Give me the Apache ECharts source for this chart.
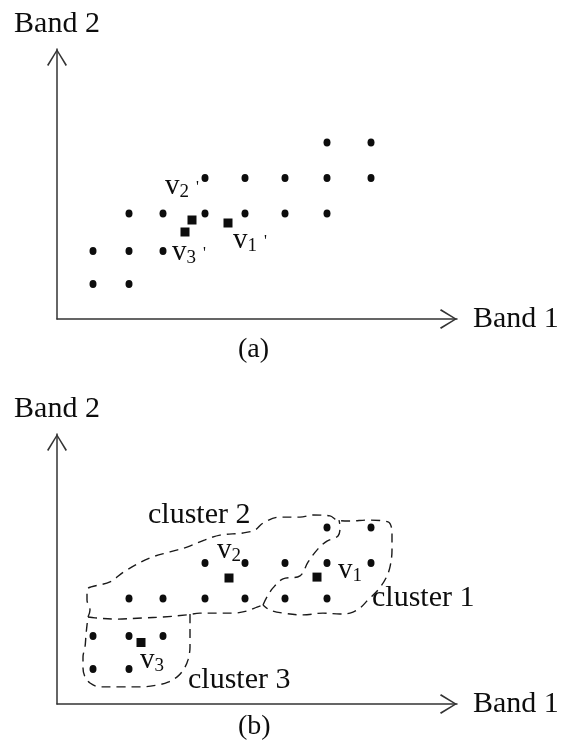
<!DOCTYPE html>
<html>
<head>
<meta charset="utf-8">
<title>Clustering in Band 1 / Band 2 feature space</title>
<script src="https://cdn.jsdelivr.net/npm/echarts@6/dist/echarts.min.js"></script>
<style>
  html, body { margin: 0; padding: 0; background: #ffffff; }
  #chart { width: 561px; height: 752px; }
</style>
</head>
<body>
<div id="chart"></div>
<script>
// Pixel samples in (Band 1, Band 2) space, same in both panels
const pixelBand1 = [9, 18, 9, 18, 26.5, 18, 26.5, 37, 47, 57, 67.5, 37, 47, 57, 67.5, 78.5, 67.5, 78.5];
const pixelBand2 = [11.7, 11.7, 22.7, 22.7, 22.7, 35.2, 35.2, 35.2, 35.2, 35.2, 35.2, 47, 47, 47, 47, 47, 58.8, 58.8];

// Cluster centres: initial guesses (a) and converged positions (b)
const centreNames = ['1', '2', '3'];
const initialBand1 = [42.75, 33.75, 32];
const initialBand2 = [32, 33, 29];
const finalBand1 = [65, 43, 21];
const finalBand2 = [42.3, 42, 20.5];

// Hand-drawn cluster outlines in panel (b), as [Band 1, Band 2] vertices
const outerOutline = [
  [7.75, 29], [8.25, 31.3], [7.5, 34.7], [7.5, 38], [13.25, 40.7], [17, 44.3],
  [23.25, 48.7], [28.25, 50.7], [32.5, 52.3], [37, 54.7], [40.75, 56.3], [46.5, 57],
  [49.5, 58], [51.5, 60.3], [55.75, 62.3], [60.75, 62.3], [64, 63], [68.25, 62.7],
  [70, 61.3], [73.25, 61], [77.75, 61.3], [82.75, 60.7], [83.75, 57], [83.75, 51.3],
  [83.25, 45.7], [82.25, 42], [80.25, 38], [77.75, 34.7], [75.75, 32], [73.25, 30.3],
  [70.75, 30], [66.5, 30.3], [61.5, 29.7], [56.5, 30.3], [53.25, 31.3], [51.5, 33]
];
const lowerBorder = [
  [7.75, 29], [9.5, 28.7], [15, 28.3], [21.5, 28.7], [26.5, 29], [32.5, 29.7],
  [35.75, 30.3], [40, 30.3], [44, 30.3], [47.5, 31], [50, 32.3], [51.5, 33]
];
const dividerBorder = [
  [51.5, 33], [52.5, 35.7], [54, 38.7], [56.5, 41.7], [60.75, 42.7], [62.75, 47.3],
  [65.25, 51.7], [67.5, 54.3], [70.25, 56], [70.75, 59], [70.5, 61.3]
];
const cluster3Border = [
  [33.25, 30], [33.25, 26.3], [33.25, 19], [32.75, 14.7], [31.75, 11.7], [30.25, 9.3],
  [27.75, 7.3], [25, 6.3], [20.75, 5.7], [15.75, 5.7], [10.75, 5.7], [8.25, 7],
  [7, 9], [6.5, 12], [6.5, 15.7], [7, 19], [7.25, 23], [7.5, 26.3], [7.75, 29]
];

// Cluster names and the point each one is written at
const clusterNames = ['cluster 2', 'cluster 1', 'cluster 3'];
const clusterNameBand1 = [22.75, 78.75, 32.75];
const clusterNameBand2 = [63, 35.3, 8];

const FONT = '"Liberation Serif", "Times New Roman", serif';
const INK = '#0d0d0d';
const AXIS = '#333333';
const ARROW = 'path://M10 0 L20 16 L18.6 17 L10 2.6 L1.4 17 L0 16 Z';

const zip = (a, b) => a.map((v, i) => [v, b[i]]);

function xAxisFor(idx) {
  return {
    type: 'value', gridIndex: idx, min: 0, max: 100,
    name: 'Band 1', nameLocation: 'end', nameGap: 16,
    nameTextStyle: { fontFamily: FONT, fontSize: 30, color: INK, align: 'left', verticalAlign: 'middle' },
    axisLine: {
      show: true, onZero: false,
      symbol: ['none', ARROW], symbolSize: [20, 17], symbolOffset: [0, -8.5],
      lineStyle: { color: AXIS, width: 1.5 }
    },
    axisTick: { show: false }, axisLabel: { show: false }, splitLine: { show: false }
  };
}
function yAxisFor(idx) {
  return {
    type: 'value', gridIndex: idx, min: 0, max: 90,
    name: 'Band 2', nameLocation: 'end', nameGap: 10,
    nameTextStyle: { fontFamily: FONT, fontSize: 30, color: INK, align: 'center', verticalAlign: 'bottom' },
    axisLine: {
      show: true, onZero: false,
      symbol: ['none', ARROW], symbolSize: [20, 17], symbolOffset: [0, -8.5],
      lineStyle: { color: AXIS, width: 1.5 }
    },
    axisTick: { show: false }, axisLabel: { show: false }, splitLine: { show: false }
  };
}

const centreRich = {
  v: { fontFamily: FONT, fontSize: 29, lineHeight: 30, color: INK, verticalAlign: 'top', padding: [0, 0, 8, 0] },
  s: { fontFamily: FONT, fontSize: 19, lineHeight: 20, color: INK, verticalAlign: 'bottom' },
  p: { fontFamily: FONT, fontSize: 16, lineHeight: 16, color: INK, verticalAlign: 'top', padding: [8, 0, 0, 7] }
};

// label offsets from each centre marker (relative to marker box corner)
const initialLabelPos = [[9.5, 7], [-22.5, -44], [-8.5, 10]];
const finalLabelPos = [[25.5, -17], [-7.5, -38], [3.5, 8]];

function centreSeries(idx, b1, b2, labelPos, primed) {
  return {
    type: 'scatter', xAxisIndex: idx, yAxisIndex: idx,
    symbol: 'rect', symbolSize: 9, silent: true,
    itemStyle: { color: INK, opacity: 1 },
    data: b1.map((v, i) => ({
      value: [v, b2[i]],
      label: {
        show: true, position: labelPos[i], opacity: 1,
        formatter: '{v|v}{s|' + centreNames[i] + '}' + (primed ? "{p|'}" : ''),
        rich: centreRich
      }
    }))
  };
}

function dotSeries(idx) {
  return {
    type: 'scatter', xAxisIndex: idx, yAxisIndex: idx, silent: true,
    symbol: 'circle', symbolSize: [7, 8], itemStyle: { color: INK, opacity: 1 },
    data: zip(pixelBand1, pixelBand2)
  };
}

function outlineSeries(points) {
  return {
    type: 'line', xAxisIndex: 1, yAxisIndex: 1, data: points,
    showSymbol: false, symbol: 'none', smooth: 0.35, silent: true,
    lineStyle: { color: '#1a1a1a', width: 1.4, type: [9, 6] }
  };
}

const chart = echarts.init(document.getElementById('chart'), null, { renderer: 'canvas' });
chart.setOption({
  backgroundColor: '#ffffff',
  animation: false,
  textStyle: { fontFamily: FONT },
  title: [
    { text: '(a)', left: 238, top: 336, padding: 0,
      textStyle: { fontFamily: FONT, fontSize: 28, lineHeight: 28, fontWeight: 'normal', color: INK } },
    { text: '(b)', left: 238, top: 713, padding: 0,
      textStyle: { fontFamily: FONT, fontSize: 28, lineHeight: 28, fontWeight: 'normal', color: INK } }
  ],
  grid: [
    { left: 57, top: 49, width: 400, height: 270, containLabel: false, outerBoundsMode: 'none' },
    { left: 57, top: 434, width: 400, height: 270, containLabel: false, outerBoundsMode: 'none' }
  ],
  xAxis: [xAxisFor(0), xAxisFor(1)],
  yAxis: [yAxisFor(0), yAxisFor(1)],
  series: [
    dotSeries(0),
    centreSeries(0, initialBand1, initialBand2, initialLabelPos, true),
    outlineSeries(outerOutline),
    outlineSeries(lowerBorder),
    outlineSeries(dividerBorder),
    outlineSeries(cluster3Border),
    dotSeries(1),
    centreSeries(1, finalBand1, finalBand2, finalLabelPos, false),
    {
      type: 'scatter', xAxisIndex: 1, yAxisIndex: 1, silent: true,
      symbolSize: 0, itemStyle: { opacity: 1 },
      label: {
        show: true, position: 'inside', align: 'left', verticalAlign: 'middle', opacity: 1,
        fontFamily: FONT, fontSize: 30, color: INK,
        formatter: p => p.name
      },
      data: clusterNames.map((n, i) => ({ name: n, value: [clusterNameBand1[i], clusterNameBand2[i]] }))
    }
  ]
});
</script>
</body>
</html>
